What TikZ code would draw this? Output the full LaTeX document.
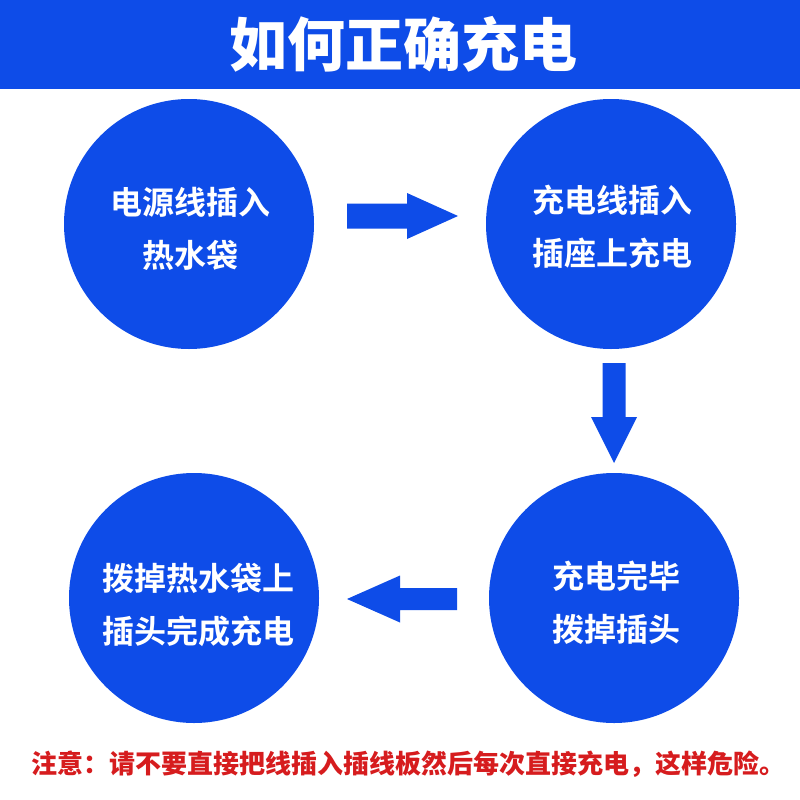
\documentclass[tikz,border=0pt]{standalone}
\usepackage{fontspec}
\newfontfamily\cjk{Noto Sans CJK SC}[BoldFont={Noto Sans CJK SC Bold}]
\newfontfamily\cjkblack{Noto Sans CJK SC Black}
\usetikzlibrary{calc}
\definecolor{mainblue}{RGB}{14,76,232}
\definecolor{warnred}{RGB}{214,28,30}
\tikzset{
  stepcircle/.style={circle, fill=mainblue, minimum size=250pt, inner sep=0pt},
  steptext/.style={text=white, align=center, font=\cjk\bfseries\fontsize{32}{53}\selectfont},
  arrowfill/.style={fill=mainblue, draw=none},
}
\begin{document}
\begin{tikzpicture}[x=1pt,y=-1pt]
\useasboundingbox (0,0) rectangle (800,800);
\fill[white] (0,0) rectangle (800,800);
% header
\fill[mainblue] (0,0) rectangle (800,89);
\node[text=white, font=\cjkblack\fontsize{58}{60}\selectfont] (title) at (403,44) {如何正确充电};
% circles
\node[stepcircle] (c1) at (189,224) {};
\node[stepcircle] (c2) at (611,224) {};
\node[stepcircle] (c3) at (614,598) {};
\node[stepcircle] (c4) at (194,598) {};
\node[steptext] (t1) at ($(c1.center)+(1,5)$) {电源线插入\\热水袋};
\node[steptext] (t2) at ($(c2.center)+(1,3)$) {充电线插入\\插座上充电};
\node[steptext] (t3) at ($(c3.center)+(2,5)$) {充电完毕\\拨掉插头};
\node[steptext] (t4) at ($(c4.center)+(4,7)$) {拨掉热水袋上\\插头完成充电};
% block arrows
\coordinate (a1) at (347,216);
\fill[arrowfill] (a1) ++(0,-12.5) -- ++(60,0) -- ++(0,-10.5) -- ++(51,23) -- ++(-51,23) -- ++(0,-10.5) -- ++(-60,0) -- cycle;
\coordinate (a2) at (614,363);
\fill[arrowfill] (a2) ++(-11.5,0) -- ++(0,54) -- ++(-11.5,0) -- ++(23,46) -- ++(23,-46) -- ++(-11.5,0) -- ++(0,-54) -- cycle;
\coordinate (a3) at (457,599);
\fill[arrowfill] (a3) ++(0,-11) -- ++(-57,0) -- ++(0,-12.5) -- ++(-53,23.5) -- ++(53,23.5) -- ++(0,-12.5) -- ++(57,0) -- cycle;
% warning
\node[text=warnred, font=\cjkblack\fontsize{26}{28}\selectfont] (warn) at (408,764) {注意：请不要直接把线插入插线板然后每次直接充电，这样危险。};
\end{tikzpicture}
\end{document}
